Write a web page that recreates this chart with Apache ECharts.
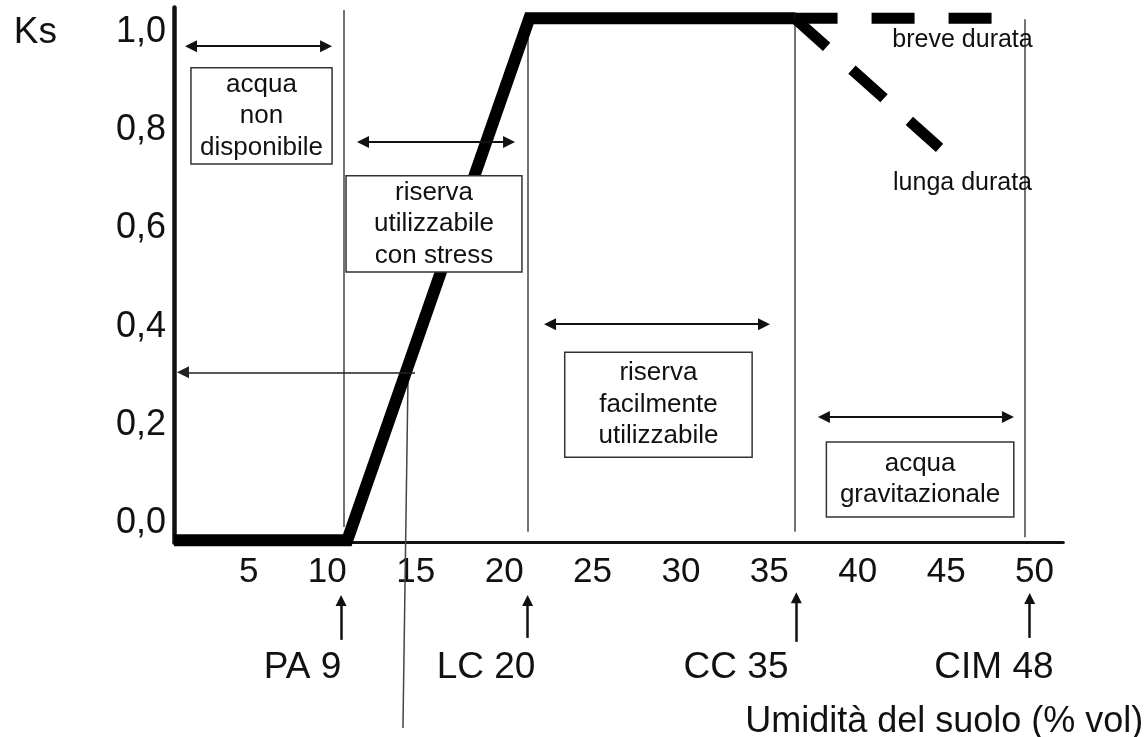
<!DOCTYPE html>
<html>
<head>
<meta charset="utf-8">
<script src="https://cdn.jsdelivr.net/npm/echarts@6/dist/echarts.min.js"></script>
<style>
html,body{margin:0;padding:0;background:#fff;}
#chart{width:1146px;height:737px;}
</style>
</head>
<body>
<div id="chart"></div>
<script>
// ---- data (axis units) ----
const xTicks = [5, 10, 15, 20, 25, 30, 35, 40, 45, 50];
const yTicks = [0, 0.2, 0.4, 0.6, 0.8, 1.0];

// Ks curve (solid)
const ksX = [0, 9.8, 20.1, 35.1];
const ksY = [-0.035, -0.035, 1.028, 1.028];
// dashed continuations
const breveX = [35.1, 46.3];
const breveY = [1.028, 1.028];
const lungaX = [35.1, 43.3];
const lungaY = [1.028, 0.764];
const durataNames = ['breve durata', 'lunga durata'];
const durataX = [44.6, 44.6];
const durataY = [0.984, 0.692];

// thresholds
const thresholdNames = ['PA 9', 'LC 20', 'CC 35', 'CIM 48'];
const thresholdLineX = [9.6, 20.0, 35.1, 48.1];
const thresholdLineTop = [1.045, 1.03, 1.04, 1.026];
const thresholdLineBottom = [-0.008, -0.018, -0.018, -0.029];
const thresholdArrowX = [9.45, 20.0, 35.2, 48.4];
const thresholdArrowTail = [-0.238, -0.234, -0.242, -0.234];
const thresholdArrowTip = [-0.158, -0.158, -0.152, -0.154];
const thresholdLabelX = [7.27, 17.65, 31.79, 46.38];
const thresholdLabelY = [-0.295, -0.295, -0.295, -0.295];

// zones
const zoneNames = ['acqua\nnon\ndisponibile', 'riserva\nutilizzabile\ncon stress', 'riserva\nfacilmente\nutilizzabile', 'acqua\ngravitazionale'];
const zoneBoxX0 = [0.96, 9.73, 22.1, 36.9];
const zoneBoxX1 = [8.94, 19.68, 32.7, 47.5];
const zoneBoxTop = [0.927, 0.707, 0.348, 0.165];
const zoneBoxBottom = [0.731, 0.511, 0.134, 0.012];
const zoneArrowY = [0.971, 0.776, 0.405, 0.216];
const zoneArrowX0 = [0.96, 10.69, 21.27, 36.76];
const zoneArrowX1 = [8.6, 18.95, 33.37, 47.17];

// reading Ks = 0.3
const readKs = 0.307;
const readArrowX = [13.63, 0.51];
const readDropX = [13.24, 12.95];
const readDropY = [0.307, -0.4175];

const FONT = '"Liberation Sans", Arial, Helvetica, sans-serif';
const zip = (a, b) => a.map((v, i) => [v, b[i]]);

const chart = echarts.init(document.getElementById('chart'), null, {renderer: 'canvas'});

const option = {
  animation: false,
  backgroundColor: '#fff',
  textStyle: {fontFamily: FONT},
  grid: {left: 174, right: 82.7, top: 7.45, bottom: 194.36, containLabel: false, outerBoundsMode: 'none'},
  xAxis: {
    type: 'value', min: 0, max: 50.3,
    name: 'Umidità del suolo (% vol)', nameLocation: 'end', nameGap: 80,
    nameTextStyle: {fontFamily: FONT, fontSize: 36, color: '#111', align: 'right', verticalAlign: 'top', padding: [161, 0, 0, 0]},
    axisLine: {onZero: false, lineStyle: {color: '#111', width: 3}},
    axisTick: {show: false},
    splitLine: {show: false},
    axisLabel: {customValues: xTicks, align: 'right', margin: 12, padding: [0, 4, 0, 0], fontSize: 35, color: '#111', fontFamily: FONT}
  },
  yAxis: {
    type: 'value', min: -0.04, max: 1.05,
    name: 'Ks', nameLocation: 'end', nameGap: -25,
    nameTextStyle: {fontFamily: FONT, fontSize: 37, color: '#111', align: 'right', verticalAlign: 'middle', padding: [0, 117, 0, 0]},
    axisLine: {onZero: false, lineStyle: {color: '#111', width: 4.5}},
    axisTick: {show: false},
    splitLine: {show: false},
    axisLabel: {customValues: yTicks, margin: 8, fontSize: 36, color: '#111', fontFamily: FONT,
      formatter: v => Number(v).toFixed(1).replace('.', ',')}
  },
  series: [
    {
      name: 'guide', type: 'lines', coordinateSystem: 'cartesian2d', z: 1, clip: false,
      symbol: ['none', 'none'],
      lineStyle: {color: '#444', width: 1.5, opacity: 1},
      data: thresholdLineX.map((x, i) => ({coords: [[x, thresholdLineBottom[i]], [x, thresholdLineTop[i]]]}))
        .concat([{coords: zip(readDropX, readDropY)}])
    },
    {
      name: 'Ks', type: 'line', z: 2, symbol: 'none', clip: false,
      lineStyle: {color: '#000', width: 12, join: 'miter', cap: 'butt'},
      data: zip(ksX, ksY)
    },
    {
      name: 'breve durata', type: 'line', z: 2, symbol: 'none', clip: false,
      lineStyle: {color: '#000', width: 11, type: [43, 34], cap: 'butt'},
      data: zip(breveX, breveY)
    },
    {
      name: 'lunga durata', type: 'line', z: 2, symbol: 'none', clip: false,
      lineStyle: {color: '#000', width: 11, type: [43, 34], cap: 'butt'},
      data: zip(lungaX, lungaY)
    },
    {
      name: 'zone', type: 'scatter', z: 6, zlevel: 0, data: [], symbolSize: 0,
      markArea: {
        silent: true, z: 6,
        itemStyle: {color: '#fff', borderColor: '#333', borderWidth: 1.5, opacity: 1},
        label: {show: true, position: 'inside', color: '#111', fontSize: 26, lineHeight: 31.5, fontFamily: FONT, align: 'center', verticalAlign: 'middle'},
        emphasis: {disabled: true},
        data: zoneNames.map((n, i) => [
          {name: n, coord: [zoneBoxX0[i], zoneBoxTop[i]]},
          {coord: [zoneBoxX1[i], zoneBoxBottom[i]]}
        ])
      }
    },
    {
      name: 'zoneArrows', type: 'lines', coordinateSystem: 'cartesian2d', z: 7, clip: false,
      symbol: ['triangle', 'triangle'], symbolSize: 12,
      lineStyle: {color: '#111', width: 2, opacity: 1},
      data: zoneArrowY.map((y, i) => ({coords: [[zoneArrowX0[i], y], [zoneArrowX1[i], y]]}))
    },
    {
      name: 'readArrow', type: 'lines', coordinateSystem: 'cartesian2d', z: 7, clip: false,
      symbol: ['none', 'triangle'], symbolSize: 12,
      lineStyle: {color: '#222', width: 1.6, opacity: 1},
      data: [{coords: [[readArrowX[0], readKs], [readArrowX[1], readKs]]}]
    },
    {
      name: 'thresholdArrows', type: 'lines', coordinateSystem: 'cartesian2d', z: 7, clip: false,
      symbol: ['none', 'triangle'], symbolSize: 11,
      lineStyle: {color: '#111', width: 2.5, opacity: 1},
      data: thresholdArrowX.map((x, i) => ({coords: [[x, thresholdArrowTail[i]], [x, thresholdArrowTip[i]]]}))
    },
    {
      name: 'thresholdLabels', type: 'scatter', z: 8, clip: false, symbolSize: 0, silent: true,
      itemStyle: {opacity: 1},
      label: {show: true, position: 'inside', formatter: p => p.name, color: '#111', opacity: 1, fontSize: 37, fontFamily: FONT},
      data: thresholdNames.map((n, i) => ({name: n, value: [thresholdLabelX[i], thresholdLabelY[i]]}))
    },
    {
      name: 'durataLabels', type: 'scatter', z: 8, clip: false, symbolSize: 0, silent: true,
      itemStyle: {opacity: 1},
      label: {show: true, position: 'inside', formatter: p => p.name, color: '#111', opacity: 1, fontSize: 25, fontFamily: FONT},
      data: durataNames.map((n, i) => ({name: n, value: [durataX[i], durataY[i]]}))
    }
  ]
};
chart.setOption(option);
</script>
</body>
</html>
